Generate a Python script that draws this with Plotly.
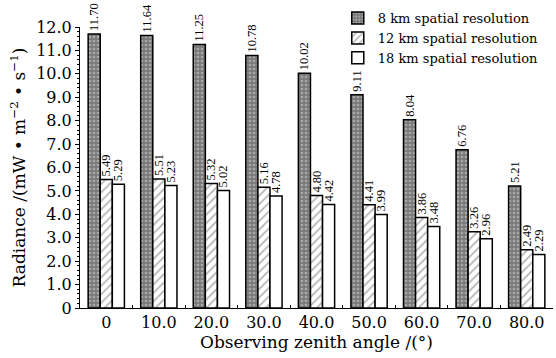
import plotly.graph_objects as go

# Observing zenith angles (categories) and radiance per spatial resolution
angles = ["0", "10.0", "20.0", "30.0", "40.0", "50.0", "60.0", "70.0", "80.0"]
res_8km = [11.70, 11.64, 11.25, 10.78, 10.02, 9.11, 8.04, 6.76, 5.21]
res_12km = [5.49, 5.51, 5.32, 5.16, 4.80, 4.41, 3.86, 3.26, 2.49]
res_18km = [5.29, 5.23, 5.02, 4.78, 4.42, 3.99, 3.48, 2.96, 2.29]
names = ["8 km spatial resolution", "12 km spatial resolution", "18 km spatial resolution"]
y_ticks = [0, 1, 2, 3, 4, 5, 6, 7, 8, 9, 10, 11, 12]
y_tick_text = ["0"] + [f"{v:.1f}" for v in y_ticks[1:]]

SERIF = "DejaVu Serif"
LABEL_FONT = dict(family="Liberation Serif", size=12.5, color="black")

patterns = [
    dict(shape=".", bgcolor="#7a7a7a", fgcolor="#d8d8d8", size=4, solidity=0.35),
    dict(shape="/", bgcolor="white", fgcolor="#6a6a6a", size=6, solidity=0.3),
    dict(shape="", bgcolor="white"),
]
fills = ["#7a7a7a", "white", "white"]

fig = go.Figure()
for name, vals, pat, fc in zip(names, [res_8km, res_12km, res_18km], patterns, fills):
    fig.add_trace(go.Bar(
        x=angles, y=vals, name=name,
        marker=dict(color=fc, pattern=pat, line=dict(color="black", width=1.5)),
        texttemplate="%{y:.2f}", textposition="outside", textangle=-90,
        textfont=LABEL_FONT, constraintext="none", cliponaxis=False,
    ))

fig.update_layout(
    width=556, height=358,
    margin=dict(l=80, r=3, t=17, b=50),
    paper_bgcolor="white", plot_bgcolor="white",
    barmode="group", bargap=0.31, bargroupgap=0,
    font=dict(family=SERIF, color="black"),
    showlegend=True,
    legend=dict(x=0.545, y=1.085, xanchor="left", yanchor="top",
                font=dict(family=SERIF, size=13), bgcolor="rgba(0,0,0,0)",
                itemwidth=30, tracegroupgap=0),
    xaxis=dict(
        title=dict(text="Observing zenith angle /(°)", font=dict(size=17), standoff=4),
        tickfont=dict(size=16), showline=True, linecolor="black", linewidth=1,
        ticks="inside", tickson="boundaries", ticklen=3, tickcolor="black",
        showgrid=False, zeroline=False,
    ),
    yaxis=dict(
        title=dict(text="Radiance /(mW • m<sup>−2</sup> • s<sup>−1</sup>)",
                   font=dict(size=17), standoff=6),
        range=[0, 12], tickvals=y_ticks, ticktext=y_tick_text,
        tickfont=dict(size=16), showline=True, linecolor="black", linewidth=1,
        ticks="outside", ticklen=4, tickcolor="black",
        minor=dict(dtick=0.2, ticks="outside", ticklen=2, tickcolor="black", showgrid=False),
        showgrid=False, zeroline=False,
    ),
)

fig.write_html("out.html")
